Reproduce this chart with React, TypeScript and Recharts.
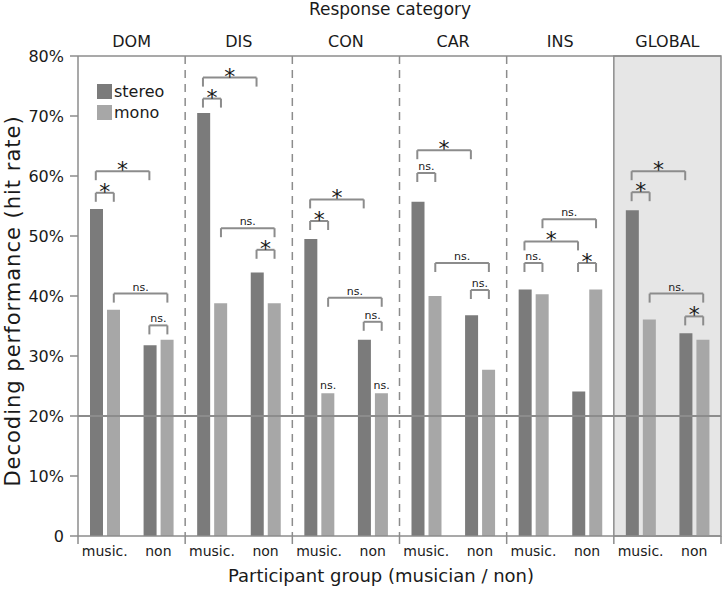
import React from "react";
import {
  ComposedChart,
  Bar,
  XAxis,
  YAxis,
  ReferenceLine,
  ReferenceArea,
  ReferenceDot,
  Legend,
} from "recharts";

const PANELS = ["DOM", "DIS", "CON", "CAR", "INS", "GLOBAL"];
const GROUPS = ["music.", "non"];
// hit rate in %, order: DOM music, DOM non, DIS music, DIS non, ...
const STEREO = [54.5, 31.8, 70.5, 43.9, 49.5, 32.7, 55.7, 36.8, 41.1, 24.1, 54.3, 33.8];
const MONO = [37.7, 32.7, 38.8, 38.8, 23.8, 23.8, 40.0, 27.7, 40.3, 41.1, 36.1, 32.7];
const Y_TICKS = [0, 10, 20, 30, 40, 50, 60, 70, 80];
const CHANCE = 20;

// [panel, from bar, to bar, height %, label]; bars: 0 music-stereo, 1 music-mono, 2 non-stereo, 3 non-mono
const BRACKETS: [number, number, number, number, string][] = [
  [0, 0, 1, 57.2, "*"],
  [0, 0, 2, 60.8, "*"],
  [0, 1, 3, 40.4, "ns."],
  [0, 2, 3, 35.1, "ns."],
  [1, 0, 2, 76.4, "*"],
  [1, 0, 1, 72.9, "*"],
  [1, 1, 3, 51.3, "ns."],
  [1, 2, 3, 47.7, "*"],
  [2, 0, 2, 56.1, "*"],
  [2, 0, 1, 52.5, "*"],
  [2, 1, 3, 39.7, "ns."],
  [2, 2, 3, 35.7, "ns."],
  [3, 0, 2, 64.3, "*"],
  [3, 0, 1, 60.5, "ns."],
  [3, 1, 3, 45.5, "ns."],
  [3, 2, 3, 41.0, "ns."],
  [4, 1, 3, 52.8, "ns."],
  [4, 0, 2, 49.1, "*"],
  [4, 0, 1, 45.5, "ns."],
  [4, 2, 3, 45.5, "*"],
  [5, 0, 2, 60.8, "*"],
  [5, 0, 1, 57.3, "*"],
  [5, 1, 3, 40.4, "ns."],
  [5, 2, 3, 36.6, "*"],
];
// labels sitting straight on a mono bar: [panel, group]
const BAR_NOTES: [number, number][] = [
  [2, 0],
  [2, 1],
];

const data = STEREO.map((s, i) => ({
  group: GROUPS[i % 2],
  pos: i + 0.5,
  stereo: s,
  mono: MONO[i],
}));

const DARK = "#7b7b7b";
const LIGHT = "#a7a7a7";
const LINE = "#8c8c8c";
const TEXT = "#1a1a1a";
const HALF = 0.168; // bar centre offset from band centre, in band units
const DROP = 1.5;

const slotX = (p: number, s: number) =>
  p * 2 + (s >= 2 ? 1 : 0) + 0.5 + (s % 2 === 0 ? -HALF : HALF);

const SigText = ({ cx, cy, text }: any) =>
  text === "*" ? (
    <text x={cx} y={cy + 6} textAnchor="middle" fontSize={22} fill={TEXT} stroke="none">
      *
    </text>
  ) : (
    <text x={cx} y={cy - 3} textAnchor="middle" fontSize={11} fill={TEXT} stroke="none">
      {text}
    </text>
  );

const PanelTick = ({ x, y, payload }: any) => (
  <text x={x} y={y - 9} textAnchor="middle" fontSize={16} fill={TEXT}>
    {PANELS[(payload.value - 1) / 2]}
  </text>
);

const GroupTick = ({ x, y, payload }: any) => (
  <text x={x} y={y + 19} textAnchor="middle" fontSize={14} fill={TEXT}>
    {payload.value}
  </text>
);

const SERIES_ORDER = ["stereo", "mono"];

const LegendBox = ({ payload }: any) => {
  const items = [...(payload || [])].sort(
    (a: any, b: any) => SERIES_ORDER.indexOf(a.value) - SERIES_ORDER.indexOf(b.value)
  );
  return (
    <div style={{ fontSize: 16, color: TEXT, lineHeight: "21px" }}>
      {items.map((e: any) => (
        <div key={e.value} style={{ display: "flex", alignItems: "center" }}>
          <span style={{ width: 15, height: 15, background: e.color, marginRight: 2 }} />
          {e.value}
        </div>
      ))}
    </div>
  );
};

export default function App() {
  return (
    <div style={{ position: "absolute", left: 0, top: 0, fontFamily: "DejaVu Sans" }}>
      <ComposedChart
        width={722}
        height={589}
        data={data}
        margin={{ top: 0, right: 1, bottom: 0, left: 0 }}
      >
        <XAxis
          xAxisId="top"
          dataKey="pos"
          orientation="top"
          type="number"
          domain={[0, 12]}
          allowDataOverflow
          ticks={[1, 3, 5, 7, 9, 11]}
          height={56}
          tickSize={0}
          tickMargin={0}
          tickLine={false}
          axisLine={{ stroke: LINE, strokeWidth: 1.5 }}
          tick={<PanelTick />}
          label={{
            content: () => (
              <text x={390} y={15} textAnchor="middle" fontSize={17} fill={TEXT}>
                Response category
              </text>
            ),
          }}
        />
        <XAxis
          xAxisId="bt"
          dataKey="pos"
          type="number"
          domain={[0, 12]}
          allowDataOverflow
          ticks={[0, 2, 4, 6, 8, 10, 12]}
          height={1}
          tickSize={8}
          tickFormatter={() => ""}
          tickLine={{ stroke: LINE, strokeWidth: 1.5 }}
          axisLine={{ stroke: LINE, strokeWidth: 1.5 }}
        />
        <XAxis
          xAxisId="cat"
          dataKey="group"
          height={52}
          tickSize={0}
          tickMargin={0}
          tickLine={false}
          axisLine={false}
          interval={0}
          tick={<GroupTick />}
          label={{
            content: () => (
              <text x={381} y={582} textAnchor="middle" fontSize={18} fill={TEXT}>
                Participant group (musician / non)
              </text>
            ),
          }}
        />
        <YAxis
          domain={[0, 80]}
          ticks={Y_TICKS}
          width={78}
          tickSize={8}
          tickMargin={6}
          tickFormatter={(v: number) => (v === 0 ? "0" : `${v}%`)}
          tick={{ fontSize: 16, fill: TEXT }}
          tickLine={{ stroke: LINE, strokeWidth: 1.5 }}
          axisLine={{ stroke: LINE, strokeWidth: 1.5 }}
          label={{
            content: () => (
              <text
                transform="translate(20,301) rotate(-90)"
                textAnchor="middle"
                fontSize={21}
                letterSpacing={1}
                fill={TEXT}
              >
                Decoding performance (hit rate)
              </text>
            ),
          }}
        />
        <ReferenceArea
          xAxisId="top"
          x1={10}
          x2={12}
          y1={0}
          y2={80}
          fill="#e6e6e6"
          fillOpacity={1}
          stroke={LINE}
          strokeWidth={1.5}
          ifOverflow="visible"
        />
        {[2, 4, 6, 8].map((x) => (
          <ReferenceLine
            key={`d${x}`}
            xAxisId="top"
            x={x}
            stroke={LINE}
            strokeWidth={1.5}
            strokeDasharray="8 6"
          />
        ))}
        <Bar xAxisId="cat" dataKey="stereo" name="stereo" fill={DARK} barSize={13} isAnimationActive={false} />
        <Bar xAxisId="cat" dataKey="mono" name="mono" fill={LIGHT} barSize={13} isAnimationActive={false} />
        <ReferenceLine xAxisId="top" y={CHANCE} stroke={LINE} strokeWidth={2} />
        {BRACKETS.flatMap(([p, a, b, lv, txt], i) => {
          const x1 = slotX(p, a);
          const x2 = slotX(p, b);
          return [
            <ReferenceLine key={`h${i}`} xAxisId="top" segment={[{ x: x1, y: lv }, { x: x2, y: lv }]} stroke={LINE} strokeWidth={2} />,
            <ReferenceLine key={`l${i}`} xAxisId="top" segment={[{ x: x1, y: lv }, { x: x1, y: lv - DROP }]} stroke={LINE} strokeWidth={2} />,
            <ReferenceLine key={`r${i}`} xAxisId="top" segment={[{ x: x2, y: lv }, { x: x2, y: lv - DROP }]} stroke={LINE} strokeWidth={2} />,
            <ReferenceDot
              key={`t${i}`}
              xAxisId="top"
              x={(x1 + x2) / 2}
              y={lv}
              r={0}
              shape={(pr: any) => <SigText cx={pr.cx} cy={pr.cy} text={txt} />}
            />,
          ];
        })}
        {BAR_NOTES.map(([p, g], i) => (
          <ReferenceDot
            key={`n${i}`}
            xAxisId="top"
            x={slotX(p, g * 2 + 1)}
            y={MONO[p * 2 + g]}
            r={0}
            shape={(pr: any) => <SigText cx={pr.cx} cy={pr.cy - 1} text="ns." />}
          />
        ))}
        <Legend
          layout="vertical"
          align="center"
          verticalAlign="middle"
          wrapperStyle={{ left: 97, top: 81, width: "auto" }}
          content={<LegendBox />}
        />
      </ComposedChart>
    </div>
  );
}
